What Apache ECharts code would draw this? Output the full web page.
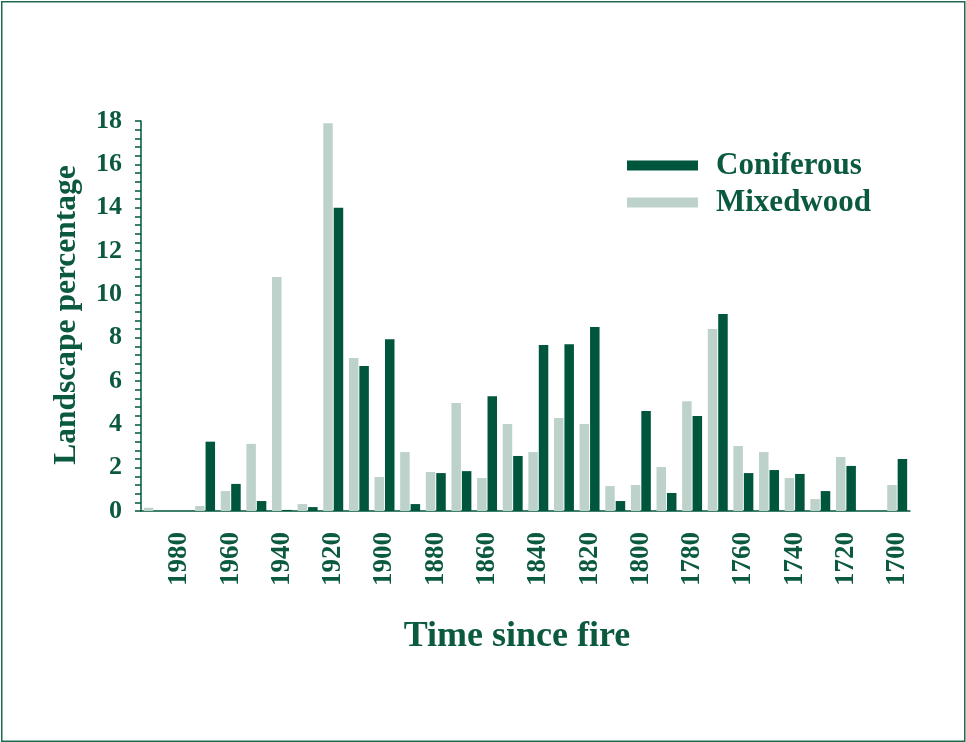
<!DOCTYPE html>
<html>
<head>
<meta charset="utf-8">
<script src="https://cdn.jsdelivr.net/npm/echarts@6/dist/echarts.min.js"></script>
<style>
html,body{margin:0;padding:0;background:#fff;}
#chart{width:966px;height:742px;}
</style>
</head>
<body>
<div id="chart"></div>
<script>
var categories = ['1990','1980','1970','1960','1950','1940','1930','1920','1910','1900',
  '1890','1880','1870','1860','1850','1840','1830','1820','1810','1800',
  '1790','1780','1770','1760','1750','1740','1730','1720','1710','1700'];
var mixedwood = [0.15,0,0.23,0.92,3.1,10.8,0.32,17.9,7.06,1.57,
  2.72,1.8,4.98,1.52,4.01,2.72,4.29,4.01,1.15,1.2,
  2.03,5.07,8.4,3.0,2.72,1.52,0.55,2.49,0,1.2];
var coniferous = [0,0,3.2,1.25,0.46,0.05,0.18,14.0,6.69,7.93,
  0.32,1.75,1.84,5.3,2.54,7.66,7.7,8.49,0.46,4.61,
  0.83,4.38,9.09,1.75,1.89,1.71,0.92,2.08,0,2.4];
var yTicks = [0,2,4,6,8,10,12,14,16,18];

var DARK = '#00553D';
var LIGHT = '#BDD2CB';
var TEXT = '#0B5A3E';
var FONT = '"Liberation Serif", "Times New Roman", serif';

var chart = echarts.init(document.getElementById('chart'));
var showOdd = function (i) { return i % 2 === 1; };
chart.setOption({
  animation: false,
  backgroundColor: '#fff',
  grid: {left: 141, right: 56, top: 121, bottom: 231, containLabel: false},
  legend: {
    orient: 'vertical',
    left: 622, top: 145,
    icon: 'rect',
    itemWidth: 71, itemHeight: 10, itemGap: 6,
    data: ['Coniferous', 'Mixedwood'],
    textStyle: {color: TEXT, fontFamily: FONT, fontWeight: 'bold', fontSize: 31, lineHeight: 31, padding: [0,0,0,13]}
  },
  xAxis: {
    type: 'category',
    data: categories,
    axisLine: {lineStyle: {color: DARK, width: 1.5}},
    axisTick: {interval: showOdd, alignWithLabel: true, length: 6, lineStyle: {color: DARK, width: 1.5}},
    axisLabel: {interval: showOdd, rotate: 90, margin: 21, color: TEXT, fontFamily: FONT, fontWeight: 'bold', fontSize: 27},
    splitLine: {show: false}
  },
  yAxis: {
    type: 'value',
    min: 0, max: 18, interval: 2,
    axisLine: {show: true, lineStyle: {color: DARK, width: 1.5}},
    axisTick: {show: true, length: 6, lineStyle: {color: DARK, width: 1.5}},
    minorTick: {show: true, splitNumber: 5, length: 6, lineStyle: {color: DARK, width: 1.5}},
    axisLabel: {margin: 19, color: TEXT, fontFamily: FONT, fontWeight: 'bold', fontSize: 26,
      formatter: function (v) { return yTicks.indexOf(v) >= 0 ? String(v) : ''; }},
    splitLine: {show: false}
  },
  series: [
    {name: 'Mixedwood', type: 'bar', data: mixedwood, barWidth: 9.5, barGap: '10%', itemStyle: {color: LIGHT}},
    {name: 'Coniferous', type: 'bar', data: coniferous, barWidth: 9.5, barGap: '10%', itemStyle: {color: DARK}}
  ],
  graphic: [
    {type: 'rect', shape: {x: 1.75, y: 1.75, width: 963, height: 739.5}, style: {fill: null, stroke: '#1d6b4f', lineWidth: 1.5}, silent: true},
    {type: 'text', x: 67, y: 315, rotation: Math.PI / 2,
      style: {text: 'Landscape percentage', fill: TEXT, font: 'bold 31.5px ' + FONT, textAlign: 'center', textVerticalAlign: 'middle'}},
    {type: 'text', x: 517, y: 637,
      style: {text: 'Time since fire', fill: TEXT, font: 'bold 36px ' + FONT, textAlign: 'center', textVerticalAlign: 'middle'}}
  ]
});
</script>
</body>
</html>
